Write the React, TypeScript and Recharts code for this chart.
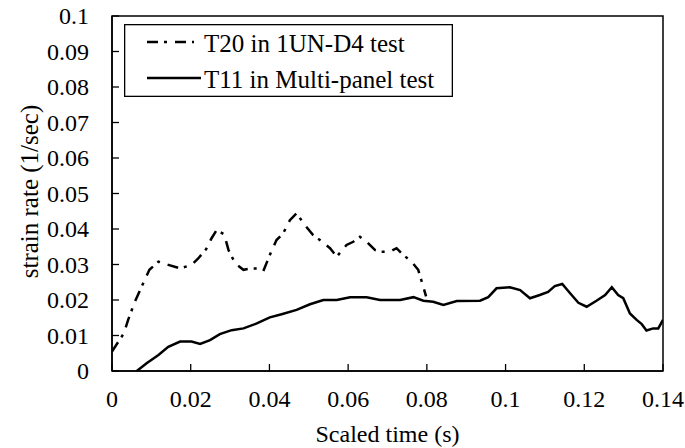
import React from 'react';
import {
  LineChart,
  Line,
  XAxis,
  YAxis,
  ReferenceArea,
} from 'recharts';

const FONT = '"Liberation Serif", "Times New Roman", Times, serif';

// T20 in 1UN-D4 test
const t20Time = [
  0, 0.003, 0.0041, 0.0058, 0.0075, 0.0095, 0.0118, 0.0143, 0.0173, 0.0202,
  0.0219, 0.0239, 0.0253, 0.0266, 0.0285, 0.0296, 0.0313, 0.0334, 0.0355,
  0.0372, 0.0384, 0.0401, 0.0418, 0.0435, 0.0452, 0.0469, 0.049, 0.0511,
  0.0528, 0.0554, 0.0571, 0.0596, 0.0613, 0.063, 0.0647, 0.0668, 0.0685,
  0.0706, 0.0723, 0.074, 0.0761, 0.0778, 0.0787, 0.0798,
];
const t20Rate = [
  0.0055, 0.0106, 0.0144, 0.0195, 0.0237, 0.0285, 0.0308, 0.0299, 0.0289,
  0.0299, 0.0317, 0.0343, 0.0374, 0.0397, 0.0385, 0.0341, 0.0303, 0.0285,
  0.0289, 0.0289, 0.028, 0.0327, 0.0369, 0.0388, 0.0425, 0.0444, 0.0411,
  0.0383, 0.0369, 0.0346, 0.0322, 0.0355, 0.0364, 0.0378, 0.0364, 0.0341,
  0.0336, 0.0336, 0.0346, 0.0327, 0.0308, 0.0285, 0.0252, 0.021,
];

// T11 in Multi-panel test
const t11Time = [
  0.0063, 0.0088, 0.0118, 0.0143, 0.0173, 0.0202, 0.0224, 0.0249, 0.0274,
  0.0304, 0.0334, 0.0368, 0.0401, 0.0431, 0.0469, 0.0503, 0.0537, 0.0571,
  0.0605, 0.0647, 0.0681, 0.0732, 0.0766, 0.0791, 0.0816, 0.0842, 0.0876,
  0.0935, 0.0956, 0.0977, 0.1011, 0.1037, 0.1062, 0.1087, 0.1108, 0.1125,
  0.1144, 0.1164, 0.1185, 0.1206, 0.1231, 0.1253, 0.127, 0.1286, 0.1299,
  0.1316, 0.1333, 0.1346, 0.1358, 0.1375, 0.1388, 0.14,
];
const t11Rate = [
  0, 0.0022, 0.0045, 0.0068, 0.0083, 0.0083, 0.0076, 0.0087, 0.0104, 0.0115,
  0.012, 0.0134, 0.0151, 0.016, 0.0172, 0.0188, 0.02, 0.02, 0.0208, 0.0208,
  0.02, 0.02, 0.0208, 0.0198, 0.0195, 0.0186, 0.0197, 0.0198, 0.0208, 0.0233,
  0.0236, 0.0228, 0.0205, 0.0214, 0.0223, 0.0239, 0.0245, 0.0219, 0.0192,
  0.0181, 0.0198, 0.0214, 0.0236, 0.0214, 0.0205, 0.0162, 0.0144, 0.0132,
  0.0114, 0.012, 0.012, 0.0144,
];

const xTicks = [0, 0.02, 0.04, 0.06, 0.08, 0.1, 0.12, 0.14];
const yTicks = [0, 0.01, 0.02, 0.03, 0.04, 0.05, 0.06, 0.07, 0.08, 0.09, 0.1];

const t20Data = t20Time.map((time, i) => ({ time, rate: t20Rate[i] }));
const t11Data = t11Time.map((time, i) => ({ time, rate: t11Rate[i] }));

const DASH_DOT = '11 6 3 8';

const series = [
  { name: 'T20 in 1UN-D4 test', data: t20Data, dash: DASH_DOT, sampleEnd: 70 },
  { name: 'T11 in Multi-panel test', data: t11Data, dash: undefined, sampleEnd: 77 },
];

const textStyle = { fontFamily: FONT, fontSize: 24, fill: '#000' };

// inward tick mark + label below
const XTick = (props: any) => {
  const { x, y, payload } = props;
  return (
    <g>
      <line x1={x} y1={y} x2={x} y2={y - 7} stroke="#000" strokeWidth={1.3} />
      <text x={x} y={y + 36} textAnchor="middle" style={textStyle}>
        {String(payload.value)}
      </text>
    </g>
  );
};

const YTick = (props: any) => {
  const { x, y, payload } = props;
  return (
    <g>
      <line x1={x} y1={y} x2={x + 7} y2={y} stroke="#000" strokeWidth={1.3} />
      <text x={x - 23} y={y + 8} textAnchor="end" style={textStyle}>
        {String(payload.value)}
      </text>
    </g>
  );
};

const XTitle = (props: any) => {
  const { x, y, width } = props.viewBox;
  return (
    <text x={x + width / 2} y={y + 71} textAnchor="middle" style={textStyle}>
      Scaled time (s)
    </text>
  );
};

const YTitle = (props: any) => {
  const { y, height } = props.viewBox;
  const cx = 38;
  const cy = y + height / 2 - 2;
  return (
    <text
      x={cx}
      y={cy}
      textAnchor="middle"
      transform={`rotate(-90 ${cx} ${cy})`}
      style={{ ...textStyle, fontSize: 25 }}
    >
      strain rate (1/sec)
    </text>
  );
};

const LegendBox = () => (
  <svg
    width={329}
    height={73}
    style={{ position: 'absolute', left: 124, top: 24, display: 'block' }}
  >
    <rect x={0.65} y={0.65} width={327.7} height={71.7} fill="#fff" stroke="#000" strokeWidth={1.3} />
    {series.map((s, i) => {
      const ly = 18 + i * 36;
      return (
        <g key={s.name}>
          <line x1={23} y1={ly} x2={s.sampleEnd} y2={ly} stroke="#000" strokeWidth={2.5} strokeDasharray={s.dash} />
          <text x={80} y={ly + 10} style={{ ...textStyle, fontSize: 25 }}>
            {s.name}
          </text>
        </g>
      );
    })}
  </svg>
);

const StrainRateChart = () => {
  return (
    <div style={{ position: 'absolute', left: 0, top: 0, width: 685, height: 448, background: '#fff', fontFamily: FONT }}>
      <LineChart width={685} height={448} margin={{ top: 16, right: 22, bottom: 0, left: 0 }}>
        <XAxis
          dataKey="time"
          type="number"
          domain={[0, 0.14]}
          ticks={xTicks}
          allowDataOverflow
          height={77}
          tickSize={0}
          tickMargin={0}
          tickLine={false}
          tick={<XTick />}
          axisLine={{ stroke: '#000', strokeWidth: 1.5 }}
          label={<XTitle />}
        />
        <YAxis
          type="number"
          domain={[0, 0.1]}
          ticks={yTicks}
          allowDataOverflow
          width={112}
          tickSize={0}
          tickMargin={0}
          tickLine={false}
          tick={<YTick />}
          axisLine={{ stroke: '#000', strokeWidth: 1.5 }}
          label={<YTitle />}
        />
        <ReferenceArea x1={0} x2={0.14} y1={0} y2={0.1} fill="none" stroke="#000" strokeWidth={1.5} />
        {series.map((s) => (
          <Line
            key={s.name}
            data={s.data}
            dataKey="rate"
            name={s.name}
            type="linear"
            stroke="#000"
            strokeWidth={2.5}
            strokeDasharray={s.dash}
            dot={false}
            isAnimationActive={false}
          />
        ))}
      </LineChart>
      <LegendBox />
    </div>
  );
};

export default function App() {
  return <StrainRateChart />;
}
